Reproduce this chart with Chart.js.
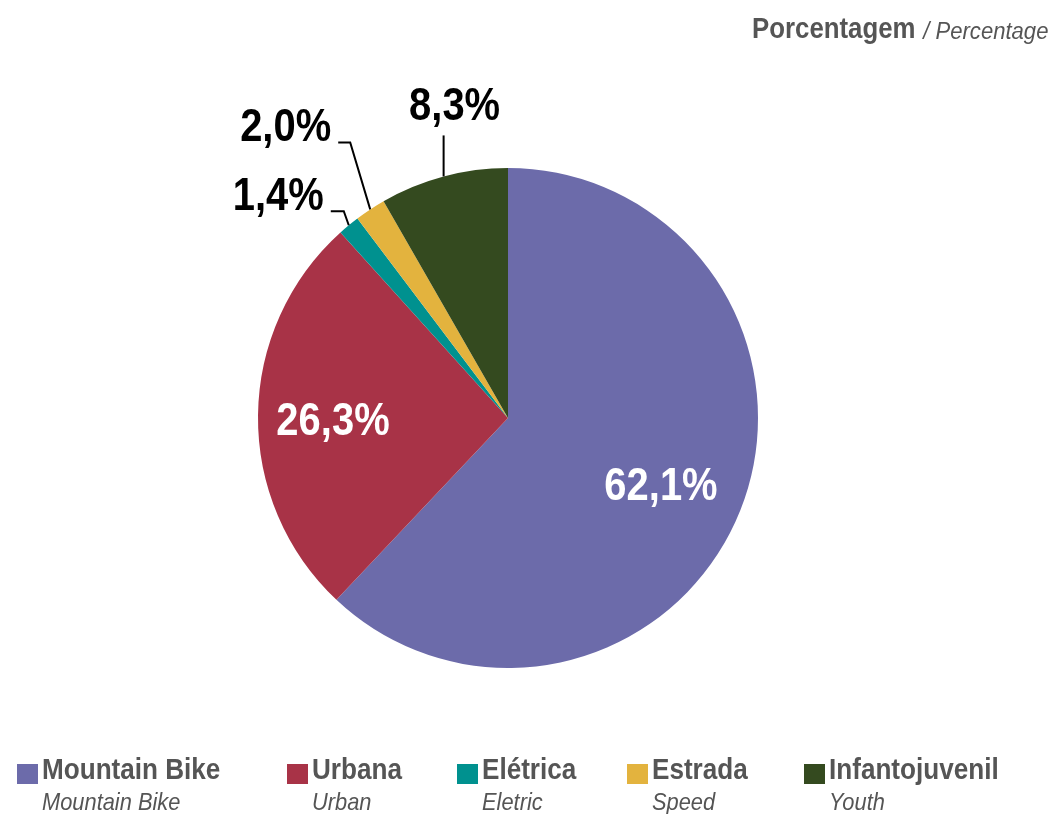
<!DOCTYPE html>
<html>
<head>
<meta charset="utf-8">
<script src="https://cdn.jsdelivr.net/npm/chart.js@4"></script>
<style>
  html, body { margin: 0; padding: 0; background: #fff; }
  body { width: 1051px; height: 814px; position: relative; overflow: hidden;
         font-family: "Liberation Sans", Arial, sans-serif; color: #555; }
  #wrap { position: absolute; left: 0; top: 0; width: 1051px; height: 814px; }
  .title-pt, .title-en { position: absolute; white-space: nowrap; }
  .title-pt { left: 752px; top: 12px; font-weight: bold; font-size: 29px;
              transform: scaleX(0.89); transform-origin: left top; }
  .title-en { right: 3px; top: 18px; font-style: italic; font-size: 23px;
              transform: scaleX(0.96); transform-origin: right top; }
  .legend { position: absolute; top: 754px; left: 0; width: 1051px; }
  .item { position: absolute; top: 0; }
  .item .sw { position: absolute; left: 0; top: 10px; width: 21px; height: 20px; }
  .item .pt, .item .en { position: absolute; left: 25px; white-space: nowrap; transform-origin: left top; }
  .item .pt { top: -2px; font-weight: bold; font-size: 30px; transform: scaleX(0.87); }
  .item .en { top: 34px; font-style: italic; font-size: 24px; transform: scaleX(0.91); }
</style>
</head>
<body>
<div id="wrap"><canvas id="pieChart" width="1051" height="814"></canvas></div>
<div class="title-pt">Porcentagem</div>
<div class="title-en">/ Percentage</div>
<div class="legend" id="legend"></div>
<script>
const labelsPt = ['Mountain Bike', 'Urbana', 'Elétrica', 'Estrada', 'Infantojuvenil'];
const labelsEn = ['Mountain Bike', 'Urban', 'Eletric', 'Speed', 'Youth'];
const shares = [62.1, 26.3, 1.4, 2.0, 8.3];
const colors = ['#6C6BAA', '#A83347', '#00918F', '#E3B33E', '#344A1F'];

const fontFamily = '"Liberation Sans", Arial, sans-serif';

// small slices get a callout line, big ones a label inside
const callouts = {
  2: { elbow: [-5, -14], arm: 13 },
  3: { elbow: [-20, -67], arm: 12 },
  4: { elbow: [0, -41], arm: 0 }
};

function fmt(v) {
  return v.toFixed(1).replace('.', ',') + '%';
}

// narrow look: squeeze the text horizontally around its anchor
function squeezedText(ctx, text, x, y, sx) {
  ctx.save();
  ctx.translate(x, y);
  ctx.scale(sx, 1);
  ctx.fillText(text, 0, 0);
  ctx.restore();
}

const sliceLabels = {
  id: 'sliceLabels',
  afterDatasetsDraw(chart) {
    const ctx = chart.ctx;
    const meta = chart.getDatasetMeta(0);
    ctx.save();
    ctx.font = 'bold 47px ' + fontFamily;
    ctx.textBaseline = 'alphabetic';
    meta.data.forEach((arc, i) => {
      const p = arc.getProps(['x', 'y', 'startAngle', 'endAngle', 'outerRadius'], true);
      const mid = (p.startAngle + p.endAngle) / 2;
      const text = fmt(shares[i]);
      const c = callouts[i];
      if (!c) {
        const r = p.outerRadius * 0.68;
        ctx.fillStyle = '#fff';
        ctx.textAlign = 'center';
        squeezedText(ctx, text, p.x + Math.cos(mid) * r - 5, p.y + Math.sin(mid) * r + 19, 0.85);
        return;
      }
      const ex = p.x + Math.cos(mid) * p.outerRadius;
      const ey = p.y + Math.sin(mid) * p.outerRadius;
      const bx = ex + c.elbow[0];
      const by = ey + c.elbow[1];
      ctx.strokeStyle = '#000';
      ctx.lineWidth = 2;
      ctx.beginPath();
      ctx.moveTo(ex, ey);
      ctx.lineTo(bx, by);
      if (c.arm) ctx.lineTo(bx - c.arm, by);
      ctx.stroke();
      ctx.fillStyle = '#000';
      if (c.arm) {
        ctx.textAlign = 'right';
        squeezedText(ctx, text, bx - c.arm - 7, by - 1, 0.85);
      } else {
        ctx.textAlign = 'center';
        squeezedText(ctx, text, bx + 11, by - 15, 0.85);
      }
    });
    ctx.restore();
  }
};

const ctx = document.getElementById('pieChart').getContext('2d');

new Chart(ctx, {
  type: 'pie',
  data: {
    labels: labelsPt,
    datasets: [{
      data: shares,
      backgroundColor: colors,
      borderWidth: 0
    }]
  },
  options: {
    responsive: false,
    animation: false,
    layout: { padding: { left: 200, right: 235, top: 168, bottom: 146 } },
    plugins: {
      legend: { display: false },
      tooltip: { enabled: false }
    }
  },
  plugins: [sliceLabels]
});

// legend below the pie
const legendX = [17, 287, 457, 627, 804];
const legend = document.getElementById('legend');
labelsPt.forEach((name, i) => {
  const item = document.createElement('div');
  item.className = 'item';
  item.style.left = legendX[i] + 'px';
  item.innerHTML = '<div class="sw" style="background:' + colors[i] + '"></div>' +
    '<div class="pt">' + name + '</div><div class="en">' + labelsEn[i] + '</div>';
  legend.appendChild(item);
});
</script>
</body>
</html>
